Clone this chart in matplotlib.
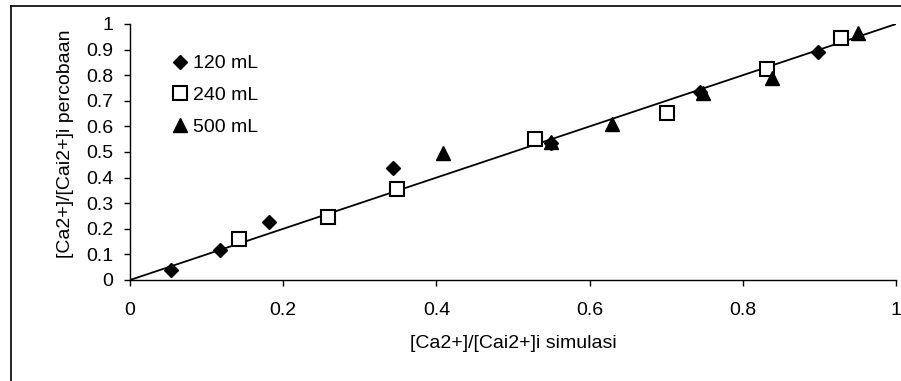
import matplotlib.pyplot as plt
import matplotlib.lines as mlines
import numpy as np

plt.rcParams['font.family'] = ['Liberation Sans', 'DejaVu Sans']

# data: x = simulasi, y = percobaan
x_120 = [0.054, 0.118, 0.182, 0.343, 0.55, 0.744, 0.898]
y_120 = [0.039, 0.117, 0.225, 0.436, 0.535, 0.736, 0.889]

x_240 = [0.142, 0.258, 0.348, 0.529, 0.701, 0.831, 0.928]
y_240 = [0.159, 0.245, 0.355, 0.551, 0.654, 0.824, 0.944]

x_500 = [0.409, 0.550, 0.629, 0.748, 0.838, 0.950]
y_500 = [0.495, 0.540, 0.609, 0.730, 0.788, 0.964]

# reference line y = x
line_x = [0, 1]
line_y = [0, 1]

x_ticks = [0, 0.2, 0.4, 0.6, 0.8, 1]
x_ticklabels = ['0', '0.2', '0.4', '0.6', '0.8', '1']
y_ticks = [0, 0.1, 0.2, 0.3, 0.4, 0.5, 0.6, 0.7, 0.8, 0.9, 1]
y_ticklabels = ['0', '0.1', '0.2', '0.3', '0.4', '0.5', '0.6', '0.7', '0.8', '0.9', '1']

fig = plt.figure(figsize=(9.01, 3.81), dpi=100)
W, H = 901, 381
ax = fig.add_axes([130 / W, 101 / H, 766 / W, 256 / H])
ax.patch.set_alpha(0)

# outer frame of the chart area, only left and top edges are inside the picture
fig.add_artist(mlines.Line2D([11 / W, 11 / W], [0, 1 - 6 / H], transform=fig.transFigure,
                             color='black', linewidth=1.2))
fig.add_artist(mlines.Line2D([11 / W, 1], [1 - 6 / H, 1 - 6 / H], transform=fig.transFigure,
                             color='black', linewidth=1.2))

ax.plot(line_x, line_y, color='black', linewidth=1.3, zorder=2)

ax.plot(x_120, y_120, 'D', color='black', ms=7.5, linestyle='none', label='120 mL', zorder=3)
ax.plot(x_240, y_240, 's', mfc='white', mec='black', mew=1.5, ms=9.5, linestyle='none',
        label='240 mL', zorder=3)
ax.plot(x_500, y_500, '^', color='black', ms=10.5, linestyle='none', label='500 mL', zorder=3)

ax.set_xlim(0, 1)
ax.set_ylim(0, 1)
ax.set_xticks(x_ticks)
ax.set_xticklabels(x_ticklabels)
ax.set_yticks(y_ticks)
ax.set_yticklabels(y_ticklabels)

for s in ['top', 'right']:
    ax.spines[s].set_visible(False)
for s in ['left', 'bottom']:
    ax.spines[s].set_linewidth(1.0)

ax.tick_params(axis='x', direction='out', length=4, width=1, labelsize=14, pad=12)
ax.tick_params(axis='y', direction='out', length=4.5, width=1, labelsize=14, pad=7.5)

ax.set_xlabel('[Ca2+]/[Cai2+]i simulasi', fontsize=14)
ax.xaxis.set_label_coords(0.5, (280 - 343) / 256)
ax.xaxis.label.set_verticalalignment('center')
ax.set_ylabel('[Ca2+]/[Cai2+]i percobaan', fontsize=14)
ax.yaxis.set_label_coords((65 - 130) / 766, (280 - 143.5) / 256)
ax.yaxis.label.set_verticalalignment('center')

ax.legend(loc='upper left', bbox_to_anchor=(0.046, 0.91), frameon=False, fontsize=14,
          handlelength=0.7, handletextpad=0.32, labelspacing=0.72, borderaxespad=0)

fig.savefig('out.png', dpi=100)
